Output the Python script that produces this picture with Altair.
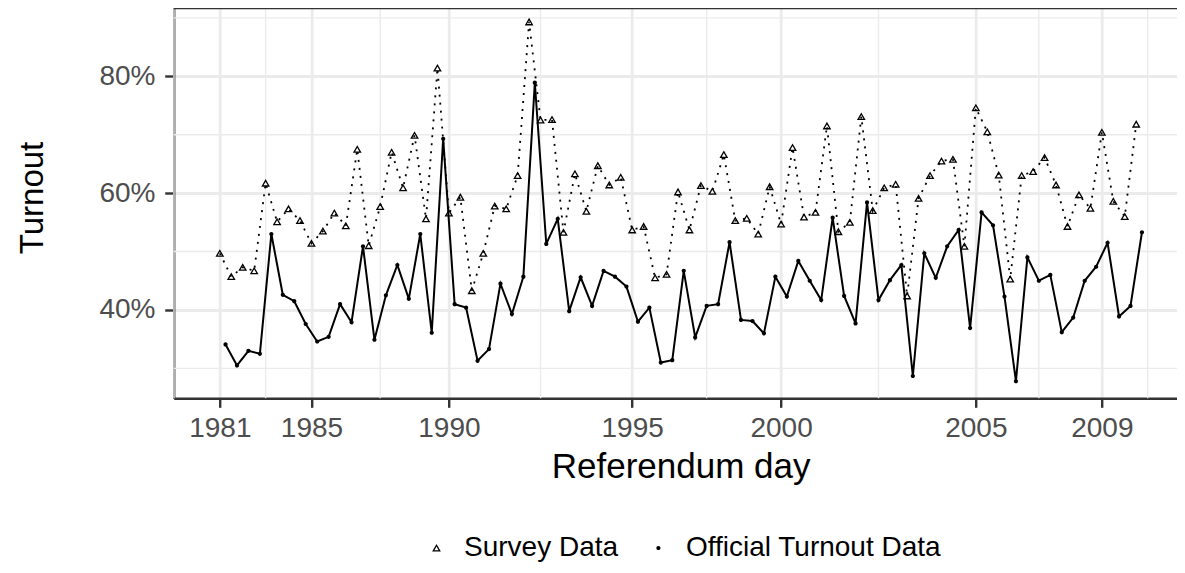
import altair as alt
import pandas as pd

# ---- data ----
series_names = ["Survey Data", "Official Turnout Data"]

# referendum number (evenly spaced referendum days)
ref_idx = list(range(81))

survey = [49.7, 45.7, 47.3, 46.7, 61.7, 55.1, 57.3, 55.3, 51.4, 53.5,
          56.6, 54.4, 67.5, 51.0, 57.7, 67.0, 60.9, 69.9, 55.6, 81.4,
          56.6, 59.3, 43.3, 49.7, 57.8, 57.3, 63.0, 89.3, 72.5, 72.6,
          53.3, 63.3, 56.9, 64.7, 61.4, 62.7, 53.7, 54.3, 45.5, 46.1,
          60.2, 53.7, 61.3, 60.3, 66.6, 55.3, 55.7, 53.0, 61.1, 54.7,
          67.8, 55.9, 56.7, 71.5, 53.4, 55.0, 73.1, 57.0, 60.9, 61.5,
          42.4, 59.1, 63.0, 65.5, 65.8, 50.9, 74.6, 70.5, 63.1, 45.3,
          63.0, 63.7, 66.1, 61.4, 54.3, 59.7, 57.4, 70.4, 58.6, 56.0, 71.8]

official = [34.1, 30.5, 33.0, 32.5, 53.0, 42.6, 41.5, 37.6, 34.6, 35.4,
            41.0, 37.9, 50.9, 34.9, 42.5, 47.7, 41.9, 53.0, 36.1, 69.3,
            41.0, 40.4, 31.3, 33.3, 44.5, 39.3, 45.7, 78.9, 51.3, 55.6,
            39.8, 45.6, 40.7, 46.7, 45.7, 44.0, 38.0, 40.4, 31.0, 31.4,
            46.7, 35.3, 40.7, 41.0, 51.6, 38.3, 38.1, 36.0, 45.7, 42.3,
            48.4, 45.0, 41.7, 55.8, 42.4, 37.7, 58.4, 41.7, 45.1, 47.7,
            28.7, 49.7, 45.5, 50.9, 53.7, 36.9, 56.7, 54.5, 42.3, 27.8,
            49.0, 45.0, 46.0, 36.2, 38.7, 45.0, 47.4, 51.5, 38.9, 40.7, 53.3]

tick_index = [0, 8, 20, 36, 49, 66, 77]
tick_years = ["1981", "1985", "1990", "1995", "2000", "2005", "2009"]
y_ticks = [40, 60, 80]

# ---- layout ----
W, H = 1003.3, 390.3
xdom = [-4.025, 83.56]
ydom = [24.88, 91.69]
FONT = "Liberation Sans"
BORDER = "#333333"
GRID = "#EBEBEB"


def minor_breaks(b, lo, hi):
    bd = b[1] - b[0]
    ext = list(b)
    if lo < b[0]:
        ext = [b[0] - bd] + ext
    if hi > b[-1]:
        ext = ext + [b[-1] + bd]
    mids = [(a + c) / 2 for a, c in zip(ext[:-1], ext[1:])]
    return [m for m in mids if lo <= m <= hi]


minor_x = minor_breaks(tick_index, *xdom)
minor_y = minor_breaks(y_ticks, *ydom)

df_s = pd.DataFrame({"idx": ref_idx, "turnout": survey, "series": series_names[0]})
df_o = pd.DataFrame({"idx": [i + 0.5 for i in ref_idx], "turnout": official,
                     "series": series_names[1]})
df_pts = pd.concat([df_s, df_o], ignore_index=True)

label_map = "{" + ",".join(f"'{i}':'{y}'" for i, y in zip(tick_index, tick_years)) + "}"

x_axis = alt.Axis(
    values=tick_index, labelExpr=f"{label_map}['' + datum.value]",
    title="Referendum day", titleFontSize=35, titleColor="black", titleFontWeight="normal",
    titleX=506.9, titleY=79.4, titleBaseline="alphabetic", titleAlign="center",
    labelFontSize=28, labelColor="#4D4D4D", labelBaseline="alphabetic", labelPadding=29.4,
    labelFlush=False, labelOverlap=False,
    tickSize=9, tickColor=BORDER, tickWidth=2.4,
    domain=True, domainColor=BORDER, domainWidth=2.4,
    grid=True, gridColor=GRID, gridWidth=2.8,
)
y_axis = alt.Axis(
    values=y_ticks, labelExpr="datum.value + '%'",
    title="Turnout", titleFontSize=33, titleColor="black", titleFontWeight="normal",
    titleX=-131.7, titleY=189.5, titleBaseline="alphabetic", titleAlign="center", titleAngle=270,
    labelFontSize=28, labelColor="#4D4D4D", labelBaseline="middle", labelPadding=9.7,
    labelFlush=False, labelOverlap=False,
    tickSize=9, tickColor=BORDER, tickWidth=2.4,
    domain=True, domainColor=BORDER, domainWidth=2.4,
    grid=True, gridColor=GRID, gridWidth=2.8,
)

xs = alt.Scale(domain=xdom, nice=False, zero=False)
ys = alt.Scale(domain=ydom, nice=False, zero=False)
X = alt.X("idx:Q", scale=xs, axis=x_axis)
Y = alt.Y("turnout:Q", scale=ys, axis=y_axis)

minor_v = alt.Chart(pd.DataFrame({"idx": minor_x})).mark_rule(
    color=GRID, strokeWidth=1.4).encode(x=X)
minor_h = alt.Chart(pd.DataFrame({"turnout": minor_y})).mark_rule(
    color=GRID, strokeWidth=1.4).encode(y=Y)
# top edge of the panel border (the right edge lies outside the picture)
top_border = alt.Chart(pd.DataFrame({"turnout": [ydom[1]]})).mark_rule(
    color=BORDER, strokeWidth=2.4).encode(y=Y)

survey_line = alt.Chart(df_s).mark_line(
    color="black", strokeWidth=1.8, strokeDash=[2, 6]).encode(x=X, y=Y)
official_line = alt.Chart(df_o).mark_line(
    color="black", strokeWidth=2).encode(x=X, y=Y)

# open triangle (outline ring, hole via opposite winding) and small dot
open_triangle = ("M0,-1.267L1.347,1.066L-1.347,1.066Z"
                 "M0,-0.465L-0.653,0.666L0.653,0.666Z")
small_circle = "M0.65,0A0.65,0.65,0,1,1,-0.65,0A0.65,0.65,0,1,1,0.65,0Z"

leg = alt.Legend(
    title=None, orient="none", legendX=248.8, legendY=526, direction="horizontal",
    labelFontSize=28, labelColor="black", labelOffset=13.5, columnPadding=25.9, padding=0,
    labelLimit=500, symbolSize=42, symbolFillColor="black", symbolStrokeWidth=0,
)

points = alt.Chart(df_pts).mark_point(
    filled=True, color="black", opacity=1, size=42, strokeWidth=0).encode(
    x=X, y=Y,
    shape=alt.Shape("series:N", scale=alt.Scale(domain=series_names,
                                                range=[open_triangle, small_circle]), legend=leg),
)

chart = alt.layer(minor_v, minor_h, top_border, survey_line, official_line, points).properties(
    width=W, height=H,
    autosize=alt.AutoSizeParams(type="none"),
    padding={"left": 165.7, "top": 0, "right": 0, "bottom": 166.7},
    background="white",
).configure(font=FONT).configure_view(stroke="transparent", strokeWidth=0)

chart.save("out.html", embed_options={"renderer": "svg", "actions": False})
